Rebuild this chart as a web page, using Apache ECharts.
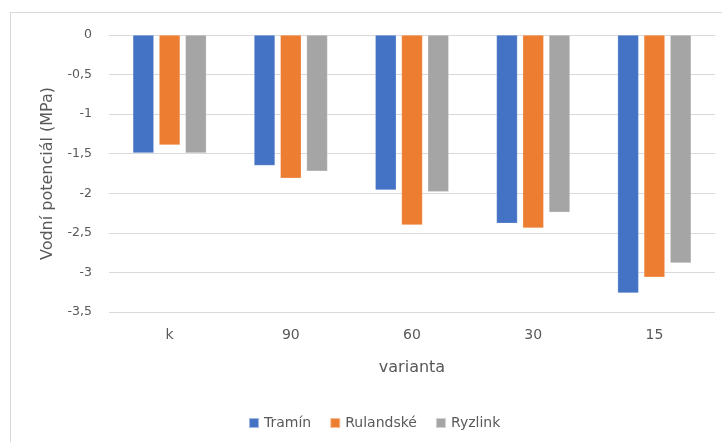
<!DOCTYPE html>
<html>
<head>
<meta charset="utf-8">
<script src="https://cdn.jsdelivr.net/npm/echarts@6/dist/echarts.min.js"></script>
<style>
html,body{margin:0;padding:0;background:#fff;}
#chart{width:722px;height:442px;}
</style>
</head>
<body>
<div id="chart"></div>
<script>
const categories = ['k', '90', '60', '30', '15'];
const tramin = [-1.49, -1.65, -1.96, -2.38, -3.26];
const rulandske = [-1.39, -1.81, -2.40, -2.44, -3.06];
const ryzlink = [-1.49, -1.72, -1.98, -2.24, -2.88];
const seriesNames = ['Tramín', 'Rulandské', 'Ryzlink'];
const colors = ['#4472C4', '#ED7D31', '#A5A5A5'];

const FONT = '"DejaVu Sans", sans-serif';
const chart = echarts.init(document.getElementById('chart'));
const mk = (name, data, i) => ({
  name, type: 'bar', data,
  barWidth: 21, barGap: '25%',
  itemStyle: { color: colors[i], borderColor: 'rgba(255,255,255,0.5)', borderWidth: 0.5 },
  animation: false
});
chart.setOption({
  animation: false,
  color: colors,
  graphic: [
    { type: 'line', shape: { x1: 10.5, y1: 12, x2: 10.5, y2: 442 }, style: { stroke: '#d9d9d9', lineWidth: 1 } },
    { type: 'line', shape: { x1: 10, y1: 12.5, x2: 722, y2: 12.5 }, style: { stroke: '#d9d9d9', lineWidth: 1 } }
  ],
  grid: { left: 109, right: 7, top: 35, bottom: 130 },
  legend: {
    data: seriesNames, top: 411, left: 243,
    itemWidth: 10, itemHeight: 10, itemGap: 18, icon: 'rect',
    textStyle: { color: '#595959', fontSize: 14, fontFamily: FONT }
  },
  xAxis: {
    type: 'category', data: categories,
    position: 'bottom',
    axisLine: { show: false, onZero: false }, axisTick: { show: false },
    axisLabel: { color: '#595959', fontSize: 14, fontFamily: FONT, margin: 16 },
    name: 'varianta', nameLocation: 'middle', nameGap: 48,
    nameTextStyle: { color: '#595959', fontSize: 16, fontFamily: FONT }
  },
  yAxis: {
    type: 'value', min: -3.5, max: 0, interval: 0.5,
    axisLine: { show: false }, axisTick: { show: false },
    splitLine: { lineStyle: { color: '#d9d9d9', width: 1 } },
    axisLabel: { color: '#595959', fontSize: 12.5, fontFamily: FONT, margin: 17,
      formatter: v => String(v).replace('.', ',') },
    name: 'Vodní potenciál (MPa)', nameLocation: 'middle', nameGap: 53,
    nameTextStyle: { color: '#595959', fontSize: 16, fontFamily: FONT }
  },
  series: [mk(seriesNames[0], tramin, 0), mk(seriesNames[1], rulandske, 1), mk(seriesNames[2], ryzlink, 2)]
});
</script>
</body>
</html>
